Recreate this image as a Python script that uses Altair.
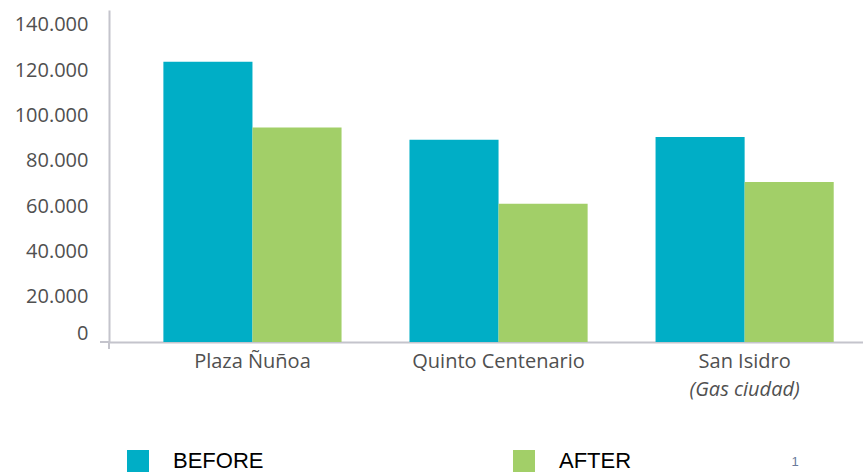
import altair as alt
import pandas as pd

# ---- data ----
locations = ["Plaza Ñuñoa", "Quinto Centenario", "San Isidro"]
notes = ["", "", "(Gas ciudad)"]
before = [123800, 89300, 90500]
after = [94700, 61000, 70700]
periods = ["BEFORE", "AFTER"]
colors = ["#00AEC6", "#A2CF68"]
y_ticks = [0, 20000, 40000, 60000, 80000, 100000, 120000, 140000]

rows = []
for loc, b, a in zip(locations, before, after):
    rows.append({"location": loc, "period": "BEFORE", "value": b})
    rows.append({"location": loc, "period": "AFTER", "value": a})
df = pd.DataFrame(rows)
notes_df = pd.DataFrame({"location": locations, "note": notes})
notes_df = notes_df[notes_df["note"] != ""]

W, H = 754, 332
AXIS_GREY = "#C4C4CC"
TEXT_GREY = "#505050"

x_scale = alt.Scale(domain=locations, paddingInner=0.276, paddingOuter=0.17, align=0.65)

bars = alt.Chart(df).mark_bar().encode(
    x=alt.X(
        "location:N",
        scale=x_scale,
        sort=locations,
        axis=alt.Axis(
            title=None,
            ticks=False,
            tickSize=0,
            labelAngle=0,
            labelFont="Open Sans",
            labelFontSize=20,
            labelColor=TEXT_GREY,
            labelPadding=19,
            labelBaseline="middle",
            domainColor=AXIS_GREY,
            domainWidth=2,
        ),
    ),
    xOffset=alt.XOffset("period:N", sort=periods, scale=alt.Scale(domain=periods, paddingInner=0, paddingOuter=0)),
    y=alt.Y(
        "value:Q",
        scale=alt.Scale(domain=[0, 146600], nice=False, zero=True),
        axis=alt.Axis(
            title=None,
            values=y_ticks,
            grid=False,
            ticks=False,
            tickSize=0,
            labelFont="Open Sans",
            labelFontSize=20,
            labelColor=TEXT_GREY,
            labelPadding=21,
            labelOffset={"condition": {"test": "datum.value === 0", "value": -9}, "value": 0},
            labelExpr="replace(format(datum.value, ','), ',', '.')",
            domainColor=AXIS_GREY,
            domainWidth=2,
        ),
    ),
    color=alt.Color(
        "period:N",
        scale=alt.Scale(domain=periods, range=colors),
        legend=alt.Legend(
            title=None,
            orient="none",
            legendX=18,
            legendY=440,
            direction="horizontal",
            symbolType="square",
            symbolSize=484,
            symbolStrokeWidth=0,
            labelFont="Liberation Sans",
            labelFontSize=22,
            labelColor="#000000",
            labelOffset=24,
            columnPadding=249,
        ),
    ),
)

note_text = alt.Chart(notes_df).mark_text(
    font="Open Sans", fontSize=20, fontStyle="italic", color=TEXT_GREY, baseline="middle"
).encode(
    x=alt.X("location:N", scale=x_scale, sort=locations),
    y=alt.value(380),
    text="note:N",
)

# small axis line extensions (left of y axis, below x axis)
ext_h = alt.Chart(pd.DataFrame({"a": [0]})).mark_rule(color=AXIS_GREY, strokeWidth=2).encode(
    x=alt.value(-9), x2=alt.value(0), y=alt.value(H)
)
ext_v = alt.Chart(pd.DataFrame({"a": [0]})).mark_rule(color=AXIS_GREY, strokeWidth=2).encode(
    x=alt.value(0), y=alt.value(H), y2=alt.value(H + 7)
)

footnote = alt.Chart(pd.DataFrame({"t": ["1"]})).mark_text(
    font="Liberation Sans", fontSize=13, color="#6A7A9A", baseline="middle"
).encode(x=alt.value(686), y=alt.value(452), text="t:N")

chart = alt.layer(bars, note_text, ext_h, ext_v, footnote).properties(
    width=W,
    height=H,
    padding={"left": 109, "top": 10, "right": 0, "bottom": 130},
    autosize=alt.AutoSizeParams(type="none"),
    background="white",
).configure_view(stroke=None)

chart.save("out.html", embed_options={"renderer": "svg", "actions": False})
